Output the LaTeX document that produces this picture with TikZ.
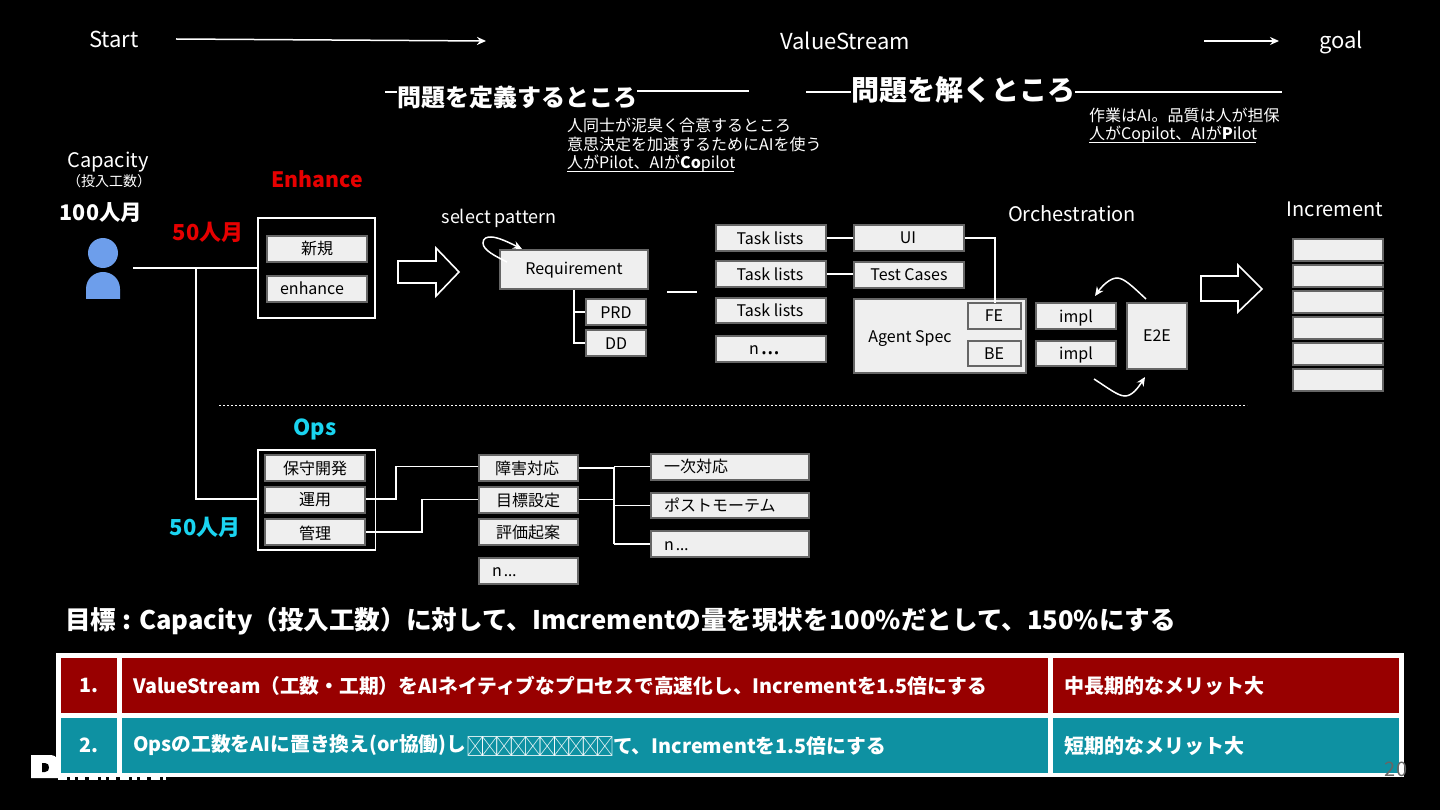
\documentclass[tikz,border=0pt]{standalone}
\usepackage{fontspec}
\setmainfont{Noto Sans CJK JP}
\newfontfamily\latinf{Noto Sans}
\usetikzlibrary{arrows.meta}
\definecolor{boxfill}{HTML}{EFEFEF}
\definecolor{boxline}{HTML}{666666}
\definecolor{redtxt}{HTML}{E60000}
\definecolor{cyantxt}{HTML}{1AD4F0}
\definecolor{redrow}{HTML}{980000}
\definecolor{tealrow}{HTML}{0E91A2}
\definecolor{personblue}{HTML}{6D9EEB}
\newcommand{\fs}[1]{\fontsize{#1pt}{#1pt}\selectfont}
\newcommand{\nn}{n{\latinf\kern2pt…}}
\newcommand{\nnw}{n{\fs{24}\latinf\kern2pt…}}
\tikzset{
  x=1pt,y=-1pt,
  wline/.style={draw=white,line width=1.6pt},
  txt/.style={text=white,inner sep=0pt,font=\fs{20}},
  lefttxt/.style={txt,anchor=west,font=\fs{16}},
  gbox/.style={draw=boxline,fill=boxfill,line width=1.6pt,text=black,inner sep=0pt,font=\fs{16}},
  lab/.style={text=black,inner sep=0pt,font=\fs{16}},
  framebox/.style={draw=white,line width=1.6pt,inner sep=0pt},
  hollow/.style={draw=white,line width=1.6pt,fill=black},
  arr/.style={draw=white,line width=1.5pt,-{Stealth[length=9pt,width=8pt]}},
  celltxt/.style={text=white,inner sep=0pt,anchor=west,font=\fs{19.75}\bfseries},
  cellcjk/.style={celltxt,font=\fs{20}\bfseries},
}
\newcommand{\bx}[6][]{\node[gbox,minimum width=#5pt-#3pt,minimum height=#6pt-#4pt,#1] (#2) at ({(#3+#5)/2},{(#4+#6)/2}) {};}
\begin{document}
\begin{tikzpicture}
\fill[black] (0,0) rectangle (1440,810);
\useasboundingbox (0,0) rectangle (1440,810);

% header
\node[txt,font=\fs{22}] (start) at (114,39) {Start};
\node[txt,font=\fs{22}] (vs) at (845,41) {ValueStream};
\node[txt,font=\fs{22}] (goal) at (1341,42) {goal};
\coordinate (s1) at (176,39); \coordinate (s2) at (486,41);
\coordinate (g1) at (1204,41); \coordinate (g2) at (1279,41);
\draw[arr] (s1) -- (s2);
\draw[arr] (g1) -- (g2);

\node[txt,font=\fs{24}\bfseries] (h1) at (517,97) {問題を定義するところ};
\node[txt,font=\fs{28}\bfseries] (h2) at (963,90) {問題を解くところ};
\coordinate (h1a) at (385,92); \coordinate (h1b) at (749,91);
\coordinate (h2a) at (806,92); \coordinate (h2b) at (1282,92);
\draw[wline] (h1a) -- (h1.west|-h1a);
\draw[wline] (h1.east|-h1b) -- (h1b);
\draw[wline] (h2a) -- (h2.west|-h2a);
\draw[wline] (h2.east|-h2b) -- (h2b);

\node[lefttxt] (n1) at (567,125) {人同士が泥臭く合意するところ};
\node[lefttxt] (n2) at (567,144) {意思決定を加速するためにAIを使う};
\node[lefttxt] (n3) at (567,164) {人がPilot、AIが\textbf{Co}pilot};
\draw[white,line width=1pt] (567,172) -- (734,172);
\node[lefttxt] (n4) at (1089,115) {作業はAI。品質は人が担保};
\node[lefttxt] (n5) at (1089,135) {人がCopilot、AIが\textbf{P}ilot};
\draw[white,line width=1pt] (1089,143) -- (1256,143);

% person
\node[txt] (cap) at (108,162.5) {Capacity};
\node[txt,font=\fs{14}] (capj) at (109,181) {（投入工数）};
\node[txt,font=\fs{21.5}\bfseries] (hund) at (101,213) {100人月};
\fill[personblue] (103,253) circle (15);
\fill[personblue] (86,299) -- (86,289) .. controls (86,279) and (94,272) .. (103,272) .. controls (112,272) and (120,279) .. (120,289) -- (120,299) -- cycle;
\coordinate (p) at (133,268);
\coordinate (j) at (196,268);

\node[txt,font=\fs{21.2}\bfseries,text=redtxt] (enh) at (317,179) {Enhance};
\node[txt,font=\fs{22}\bfseries,text=redtxt] (m50a) at (208,232) {50人月};
\node[framebox,minimum width=117pt,minimum height=100pt] (ebox) at (316.5,268) {};
\bx{shin}{267}{236}{367}{262}
\node[lab] (shint) at (317,248) {新規};
\bx{enhb}{267}{276}{367}{302}
\node[lab] (enht) at (312,288) {enhance};
\node[framebox,minimum width=117.5pt,minimum height=100pt] (obox) at (316.8,500) {};
\draw[wline] (p) -- (ebox.west|-p);
\draw[wline] (j) -- (196,499) -- (obox.west|-0,499);

% hollow arrows
\draw[hollow,line join=miter] (398,261) -- (436,261) -- (436,248) -- (459,272) -- (436,296) -- (436,283) -- (398,283) -- cycle;
\draw[hollow,line join=miter] (1201,276) -- (1238,276) -- (1238,265) -- (1262,289) -- (1238,312) -- (1238,301) -- (1201,301) -- cycle;

% requirement
\node[txt,font=\fs{18}] (sel) at (499,218) {select pattern};
\bx{req}{500}{250}{648}{289}
\node[lab] at (574,270.5) {Requirement};
\draw[arr] (507,262) .. controls (495,256) and (483,250) .. (483,243) .. controls (483,238) and (487,237) .. (491,237) .. controls (498,237) and (510,243) .. (522,249);
\bx{prd}{586}{299}{646}{325}
\node[lab] at (616,312.5) {PRD};
\bx{dd}{586}{330}{646}{356}
\node[lab] at (616,344) {DD};
\draw[wline] (req.south-|574,0) -- (574,343) -- (dd.west|-0,343);
\draw[wline] (574,312) -- (prd.west|-0,312);
\coordinate (d1) at (667,292); \coordinate (d2) at (697,292);
\draw[wline] (d1) -- (d2);

% tasks
\bx{t1}{716}{225}{826}{251}
\bx{t2}{716}{261}{826}{287}
\bx{t3}{716}{298}{826}{323}
\bx{t4}{716}{336}{826}{362}
\node[lab] at (770,238) {Task lists};
\node[lab] at (770,274) {Task lists};
\node[lab] at (770,310.5) {Task lists};
\node[lab,anchor=base west] at (749,354.5) {\nnw};
\bx{ui}{854}{225}{964}{251}
\bx{tc}{854}{262}{964}{288}
\node[lab] at (908,238) {UI};
\node[lab] at (909,275) {Test Cases};
\draw[wline] (t1.east) -- (ui.west);
\draw[wline] (t2.east) -- (tc.west|-t2.east);
\bx{as}{854}{299}{1026}{373}
\node[lab] at (910,338.5) {Agent Spec};
\bx{fe}{968}{303}{1021}{329}
\bx{be}{968}{341}{1021}{366}
\node[lab] at (994,316) {FE};
\node[lab] at (994,353.5) {BE};
\draw[wline] (ui.east) -- (995,238) -- (995,303);
\bx{i1}{1036}{303}{1116}{329}
\bx{i2}{1036}{341}{1116}{366}
\node[lab] at (1076,317.5) {impl};
\node[lab] at (1076,355) {impl};
\bx{e2e}{1127}{303}{1187}{369}
\node[lab] at (1157,336) {E2E};
\draw[arr] (1146,299) .. controls (1132,286) and (1124,278) .. (1117,278) .. controls (1110,278) and (1102,286) .. (1095,296);
\draw[arr] (1094,379) .. controls (1108,388) and (1118,396) .. (1125,396) .. controls (1132,396) and (1138,388) .. (1145,377);
\node[txt] (orch) at (1072,214) {Orchestration};
\node[txt] (inc) at (1335,209) {Increment};
\bx{r1}{1293}{239}{1383}{261}
\bx{r2}{1293}{265}{1383}{287}
\bx{r3}{1293}{291}{1383}{313}
\bx{r4}{1293}{317}{1383}{339}
\bx{r5}{1293}{343}{1383}{365}
\bx{r6}{1293}{369}{1383}{391}

% divider
\coordinate (dv1) at (219,405.5); \coordinate (dv2) at (1247,405.5);
\draw[white,line width=1.6pt,dash pattern=on 1.6pt off 2.4pt] (dv1) -- (dv2);

% ops
\node[txt,font=\fs{22}\bfseries,text=cyantxt] (ops) at (315,429.5) {Ops};
\node[txt,font=\fs{22}\bfseries,text=cyantxt] (m50b) at (205,527) {50人月};
\bx{o1}{265}{455}{365}{481}
\bx{o2}{265}{487}{365}{513}
\bx{o3}{265}{519}{365}{545}
\node[lab] at (315,468) {保守開発};
\node[lab] at (315,500) {運用};
\node[lab] at (315,533) {管理};
\bx{m1}{479}{455}{578}{481}
\bx{m2}{479}{487}{578}{513}
\bx{m3}{479}{519}{578}{545}
\bx{m4}{479}{558}{578}{584}
\node[lab] at (527,468) {障害対応};
\node[lab] at (528,500) {目標設定};
\node[lab] at (528,532) {評価起案};
\node[lab,anchor=west] at (492,572) {\nn};
\bx{k1}{651}{454}{809}{480}
\bx{k2}{651}{493}{809}{518}
\bx{k3}{651}{531}{809}{557}
\node[lab,anchor=west] at (664,466) {一次対応};
\node[lab,anchor=west] at (664,505) {ポストモーテム};
\node[lab,anchor=west] at (664,546) {\nn};
\draw[wline] (o2.east|-0,499) -- (396,499) -- (396,466.5) -- (m1.west|-0,466.5);
\draw[wline] (o3.east|-0,532) -- (422,532) -- (422,499.5) -- (m2.west|-0,499.5);
\draw[wline] (m1.east|-0,468) -- (614,468);
\draw[wline] (m2.east|-0,499.5) -- (614,499.5);
\draw[wline] (614,466.5) -- (614,544);
\draw[wline] (614,466.5) -- (k1.west|-0,466.5);
\draw[wline] (614,505.5) -- (k2.west|-0,505.5);
\draw[wline] (614,544) -- (k3.west|-0,544);

% goal line
\node[txt,anchor=west,font=\fs{25.6}\bfseries] (goalt) at (65,621.5) {目標 : Capacity（投入工数）に対して、Imcrementの量を現状を100\%だとして、150\%にする};

% logo behind table
\fill[white] (31,755) -- (50,755) .. controls (54,755) and (57,757) .. (58,760) -- (58,778) -- (31,778) -- cycle;
\fill[black] (42,763) -- (45,763) .. controls (48,763) and (49,765) .. (49,767.5) .. controls (49,770) and (48,772) .. (45,772) -- (42,772) -- cycle;
\draw[white,line width=3pt,dash pattern=on 9pt off 3pt on 5pt off 3pt on 7pt off 4pt] (58,778.5) -- (166,778.5);

% table
\fill[white] (56,653) rectangle (1404,777);
\fill[redrow] (61,658) rectangle (117,713);
\fill[redrow] (122,658) rectangle (1048,713);
\fill[redrow] (1053,658) rectangle (1399,713);
\fill[tealrow] (61,718) rectangle (117,773);
\fill[tealrow] (122,718) rectangle (1048,773);
\fill[tealrow] (1053,718) rectangle (1399,773);
\node[celltxt,anchor=center] at (89,685.5) {1.};
\node[celltxt,anchor=center] at (89,745.5) {2.};
\node[celltxt] at (133,685.5) {ValueStream（工数・工期）をAIネイティブなプロセスで高速化し、Incrementを1.5倍にする};
\node[celltxt] at (133,745.5) {Opsの工数をAIに置き換え(or協働)し};
\node[celltxt] at (613,745.5) {て、Incrementを1.5倍にする};
\node[cellcjk] at (1064,685.5) {中長期的なメリット大};
\node[cellcjk] at (1064,745.5) {短期的なメリット大};
\foreach \i in {0,...,9} {
  \draw[white,line width=.7pt,opacity=.8] ({468+14.4*\i},736.5) rectangle ({468+14.4*(\i+1)},755.5) ({468+14.4*\i},736.5) -- ({468+14.4*(\i+1)},755.5) ({468+14.4*(\i+1)},736.5) -- ({468+14.4*\i},755.5);
}
\node[inner sep=0pt,text=boxline,font=\fs{20}] (pg) at (1396,769) {20};
\end{tikzpicture}
\end{document}
